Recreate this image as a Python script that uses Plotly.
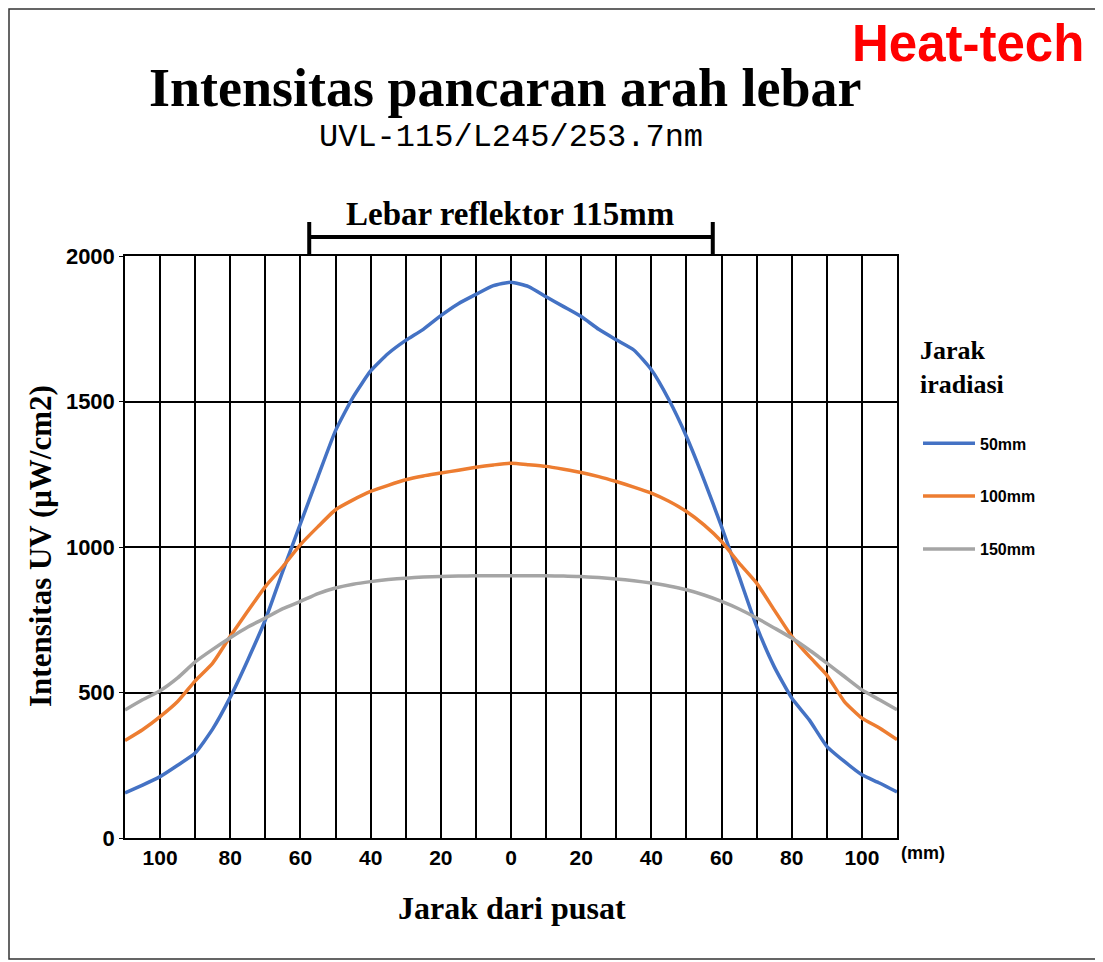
import plotly.graph_objects as go

# ---- data ----
distance_mm = [-110, -105, -100, -95, -90, -85, -80, -75, -70, -65, -60, -55, -50, -45, -40,
               -35, -30, -25, -20, -15, -10, -5, 0, 5, 10, 15, 20, 25, 30, 35, 40, 45, 50,
               55, 60, 65, 70, 75, 80, 85, 90, 95, 100, 105, 110]

uv_50mm = [155, 182, 211, 250, 292, 375, 484, 612, 750, 918, 1080, 1242, 1400, 1515, 1605,
           1665, 1710, 1748, 1795, 1836, 1868, 1898, 1910, 1895, 1860, 1826, 1792, 1748, 1712,
           1677, 1609, 1506, 1380, 1231, 1070, 899, 727, 589, 481, 406, 315, 263, 217, 189, 158]

uv_100mm = [335, 372, 417, 469, 540, 601, 693, 780, 864, 933, 1008, 1070, 1128, 1162, 1191,
            1212, 1231, 1244, 1254, 1264, 1274, 1282, 1288, 1283, 1277, 1267, 1256, 1242, 1225,
            1206, 1185, 1157, 1122, 1076, 1019, 945, 876, 784, 693, 624, 560, 469, 412, 378, 338]

uv_150mm = [440, 475, 506, 550, 605, 648, 688, 725, 756, 788, 813, 840, 859, 872, 881,
            888, 893, 897, 899, 900, 901, 901, 901, 901, 901, 900, 899, 895, 890,
            884, 876, 866, 853, 835, 813, 787, 756, 722, 687, 646, 601, 555, 509, 475, 441]

series_names = ["50mm", "100mm", "150mm"]
series_colors = ["#4472C4", "#ED7D31", "#A5A5A5"]

x_tickvals = [-100, -90, -80, -70, -60, -50, -40, -30, -20, -10, 0,
              10, 20, 30, 40, 50, 60, 70, 80, 90, 100]
x_ticktext = ["100", "", "80", "", "60", "", "40", "", "20", "", "0",
              "", "20", "", "40", "", "60", "", "80", "", "100"]
y_tickvals = [0, 500, 1000, 1500, 2000]
y_ticktext = ["0", "500", "1000", "1500", "2000"]

reflector_half_width = 57.5

# ---- geometry (page pixels; the page body adds an 8px offset) ----
OFF = 8
PAGE_W, PAGE_H = 1103, 962
PLOT_L, PLOT_R, PLOT_T, PLOT_B = 125, 897, 256, 838
W, H = PAGE_W - OFF, PAGE_H - OFF
L, T = PLOT_L - OFF, PLOT_T - OFF
R, B = PAGE_W - PLOT_R, PAGE_H - PLOT_B
PW, PH = PLOT_R - PLOT_L, PLOT_B - PLOT_T


def px(x):
    return (x - PLOT_L) / PW


def py(y):
    return (PLOT_B - y) / PH


fig = go.Figure()
for name, color, vals in zip(series_names, series_colors, [uv_50mm, uv_100mm, uv_150mm]):
    fig.add_trace(go.Scatter(x=distance_mm, y=vals, mode="lines", name=name,
                             legendgroup=name,
                             line=dict(color=color, width=3.5, shape="spline", smoothing=0.5)))

serif = "Liberation Serif, Times New Roman, serif"
sans = "Liberation Sans, Arial, sans-serif"

fig.update_layout(
    width=W, height=H,
    margin=dict(l=L, r=R, t=T, b=B, pad=0),
    paper_bgcolor="white", plot_bgcolor="white",
    showlegend=True,
    legend=dict(
        x=px(918), y=py(325), xanchor="left", yanchor="top",
        title=dict(text="Jarak<br>iradiasi<br> ", side="top",
                   font=dict(family=serif, size=26, color="black", weight="bold")),
        font=dict(family=sans, size=16, color="black", weight="bold"),
        tracegroupgap=29, itemwidth=52, bgcolor="rgba(0,0,0,0)",
    ),
    xaxis=dict(
        range=[-110, 110], tickmode="array", tickvals=x_tickvals, ticktext=x_ticktext,
        showgrid=True, gridcolor="black", gridwidth=1.5,
        showline=True, linecolor="black", linewidth=1.5, mirror=True,
        ticks="", zeroline=False,
        tickfont=dict(family=sans, size=21, color="black", weight="bold"),
    ),
    yaxis=dict(
        range=[0, 2000], tickmode="array", tickvals=y_tickvals, ticktext=y_ticktext,
        showgrid=True, gridcolor="black", gridwidth=1.5,
        showline=True, linecolor="black", linewidth=1.5, mirror=True,
        ticks="outside", ticklen=4, tickcolor="black", zeroline=False,
        tickfont=dict(family=sans, size=22, color="black", weight="bold"),
    ),
)

# outer frame
fig.add_shape(type="rect", xref="paper", yref="paper",
              x0=px(9), x1=px(1097), y0=py(959), y1=py(9),
              line=dict(color="#333333", width=1.5), layer="below")

# reflector width bracket
fig.add_shape(type="line", xref="x", yref="paper",
              x0=-reflector_half_width, x1=reflector_half_width, y0=py(237), y1=py(237),
              line=dict(color="black", width=4))
for xv in (-reflector_half_width, reflector_half_width):
    fig.add_shape(type="line", xref="x", yref="paper",
                  x0=xv, x1=xv, y0=py(254), y1=py(222),
                  line=dict(color="black", width=4))

annotations = [
    dict(text="Intensitas pancaran arah lebar", x=px(505), y=py(88),
         font=dict(family=serif, size=54, color="black", weight="bold")),
    dict(text="UVL-115/L245/253.7nm", x=px(511), y=py(137),
         font=dict(family="Liberation Mono, DejaVu Sans Mono, monospace", size=32, color="black")),
    dict(text="Heat-tech", x=px(968), y=py(44),
         font=dict(family="Liberation Sans, Arial, sans-serif",
                   size=51, color="#FF0000", weight="bold")),
    dict(text="Lebar reflektor 115mm", x=px(510), y=py(214),
         font=dict(family=serif, size=33, color="black", weight="bold")),
    dict(text="Intensitas UV (μW/cm2)", x=px(40), y=py(546), textangle=-90,
         font=dict(family=serif, size=31, color="black", weight="bold")),
    dict(text="Jarak dari pusat", x=px(512), y=py(908),
         font=dict(family=serif, size=32, color="black", weight="bold")),
    dict(text="(mm)", x=px(899), y=py(853), xanchor="left",
         font=dict(family=sans, size=18, color="black", weight="bold")),
]
for a in annotations:
    a.setdefault("xanchor", "center")
    fig.add_annotation(xref="paper", yref="paper", yanchor="middle", showarrow=False, **a)

fig.write_html("out.html")
